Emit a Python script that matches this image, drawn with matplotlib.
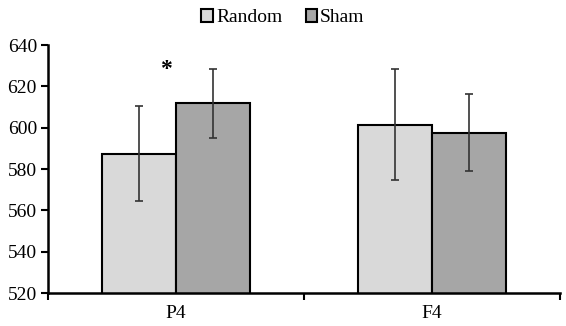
import numpy as np
import matplotlib
matplotlib.use("Agg")
from matplotlib import pyplot as plt

categories = ['P4', 'F4']
random_vals = [587.3, 601.5]
random_err = [23.0, 26.7]
sham_vals = [611.8, 597.6]
sham_err = [16.7, 18.6]
yticks = [520, 540, 560, 580, 600, 620, 640]

plt.rcParams['font.family'] = ['Liberation Serif', 'DejaVu Serif']

fig = plt.figure(figsize=(5.66, 3.26), dpi=100)
ax = fig.add_axes([48/566, 1-293/326, 512/566, 248/326])

x = np.arange(len(categories))
w = 0.29
errkw = dict(ecolor='#333333', elinewidth=1.2, capsize=3, capthick=1.2)
ax.bar(x - w/2, random_vals, w, yerr=random_err, color='#d9d9d9',
       edgecolor='black', linewidth=1.5, label='Random', error_kw=errkw)
ax.bar(x + w/2, sham_vals, w, yerr=sham_err, color='#a6a6a6',
       edgecolor='black', linewidth=1.5, label='Sham', error_kw=errkw)

# significance mark
ax.text(x[0] - 0.04, 628, '*', ha='center', va='center', fontsize=17,
        fontweight='bold')

ax.set_xlim(-0.5, 1.5)
ax.set_ylim(520, 640)
ax.set_yticks(yticks)
ax.tick_params(axis='y', labelsize=14, width=1.5, length=5, direction='out', pad=3)
ax.set_xticks([-0.5, 0.5, 1.5])
ax.set_xticklabels([])
ax.set_xticks(x, minor=True)
ax.set_xticklabels(categories, minor=True)
ax.tick_params(axis='x', which='major', width=1.5, length=5, direction='out')
ax.tick_params(axis='x', which='minor', length=0, labelsize=14, pad=9)

for s in ['top', 'right']:
    ax.spines[s].set_visible(False)
for s in ['left', 'bottom']:
    ax.spines[s].set_linewidth(1.8)

fig.legend(loc='upper center', bbox_to_anchor=(0.5, 1.025), ncol=2,
           frameon=False, fontsize=14, handlelength=0.6, handleheight=0.6,
           handletextpad=0.15, columnspacing=1.2)

fig.savefig('out.png', dpi=100)
